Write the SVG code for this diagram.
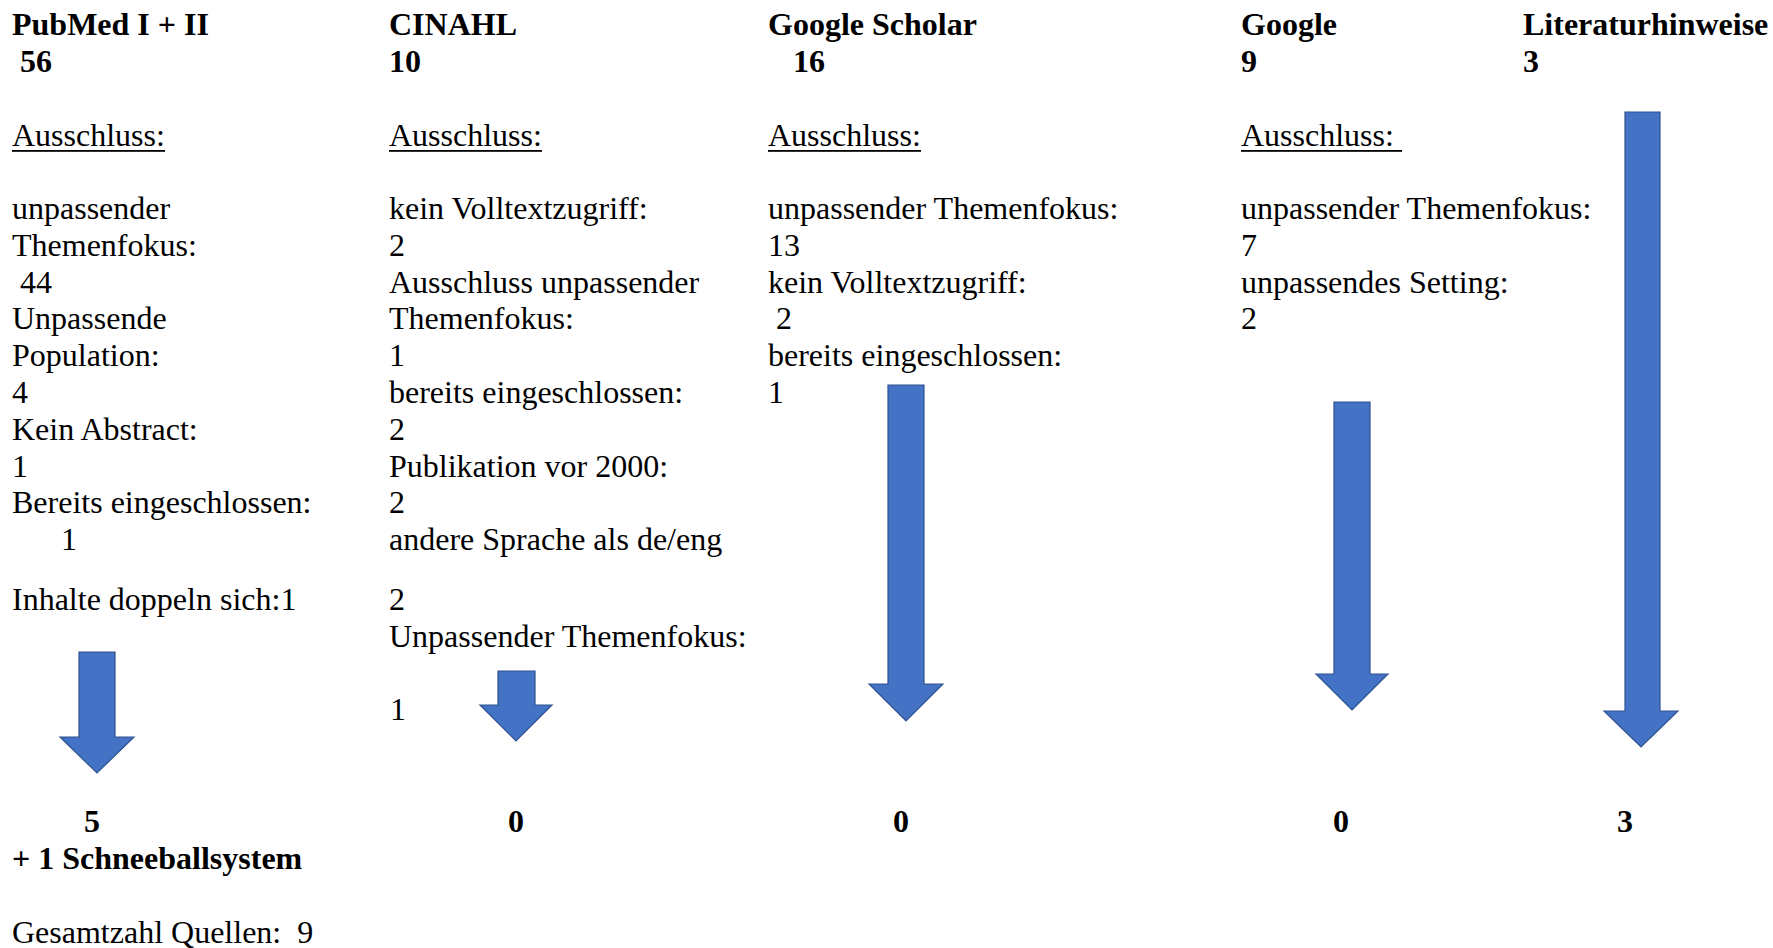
<svg xmlns="http://www.w3.org/2000/svg" width="1773" height="948" viewBox="0 0 1773 948">
<style>
text{font-family:"Liberation Serif","Times New Roman",serif;font-size:32px;fill:#000}
.b{font-weight:bold}
.ul{fill:#000}
.arrow{fill:#4472C4;stroke:#2F528F;stroke-width:1.2}
</style>
<rect width="1773" height="948" fill="#fff"/>
<g id="col-pubmed">
<text class="b" x="12" y="35">PubMed I + II</text>
<text class="b" x="20" y="72">56</text>
<text x="12" y="146">Ausschluss:</text>
<rect class="ul" x="12" y="150" width="153" height="1.8"/>
<text x="12" y="219">unpassender</text>
<text x="12" y="256">Themenfokus:</text>
<text x="20" y="293">44</text>
<text x="12" y="329">Unpassende</text>
<text x="12" y="366">Population:</text>
<text x="12" y="403">4</text>
<text x="12" y="440">Kein Abstract:</text>
<text x="12" y="477">1</text>
<text x="12" y="513">Bereits eingeschlossen:</text>
<text x="61" y="550">1</text>
<text x="12" y="610">Inhalte doppeln sich:1</text>
<text class="b" x="84" y="832">5</text>
<text class="b" x="12" y="869">+ 1 Schneeballsystem</text>
<text x="12" y="943" xml:space="preserve">Gesamtzahl Quellen:  9</text>
</g>
<g id="col-cinahl">
<text class="b" x="389" y="35">CINAHL</text>
<text class="b" x="389" y="72">10</text>
<text x="389" y="146">Ausschluss:</text>
<rect class="ul" x="389" y="150" width="153" height="1.8"/>
<text x="389" y="219">kein Volltextzugriff:</text>
<text x="389" y="256">2</text>
<text x="389" y="293">Ausschluss unpassender</text>
<text x="389" y="329">Themenfokus:</text>
<text x="389" y="366">1</text>
<text x="389" y="403">bereits eingeschlossen:</text>
<text x="389" y="440">2</text>
<text x="389" y="477">Publikation vor 2000:</text>
<text x="389" y="513">2</text>
<text x="389" y="550">andere Sprache als de/eng</text>
<text x="389" y="610">2</text>
<text x="389" y="647">Unpassender Themenfokus:</text>
<text x="390" y="720">1</text>
<text class="b" x="508" y="832">0</text>
</g>
<g id="col-scholar">
<text class="b" x="768" y="35">Google Scholar</text>
<text class="b" x="793" y="72">16</text>
<text x="768" y="146">Ausschluss:</text>
<rect class="ul" x="768" y="150" width="153" height="1.8"/>
<text x="768" y="219">unpassender Themenfokus:</text>
<text x="768" y="256">13</text>
<text x="768" y="293">kein Volltextzugriff:</text>
<text x="776" y="329">2</text>
<text x="768" y="366">bereits eingeschlossen:</text>
<text x="768" y="403">1</text>
<text class="b" x="893" y="832">0</text>
</g>
<g id="col-google">
<text class="b" x="1241" y="35">Google</text>
<text class="b" x="1241" y="72">9</text>
<text x="1241" y="146">Ausschluss:</text>
<rect class="ul" x="1241" y="150" width="161" height="1.8"/>
<text x="1241" y="219">unpassender Themenfokus:</text>
<text x="1241" y="256">7</text>
<text x="1241" y="293">unpassendes Setting:</text>
<text x="1241" y="329">2</text>
<text class="b" x="1333" y="832">0</text>
</g>
<g id="col-literatur">
<text class="b" x="1523" y="35">Literaturhinweise</text>
<text class="b" x="1523" y="72">3</text>
<text class="b" x="1617" y="832">3</text>
</g>
<g id="connectors">
<polygon class="arrow" points="79,652 115,652 115,737 134,737 97,773 60,737 79,737"/>
<polygon class="arrow" points="498,671 535,671 535,705 552,705 516,741 480,705 498,705"/>
<polygon class="arrow" points="888,385 924,385 924,684 943,684 906,721 869,684 888,684"/>
<polygon class="arrow" points="1334,402 1370,402 1370,674 1388,674 1352,710 1316,674 1334,674"/>
<polygon class="arrow" points="1625,112 1660,112 1660,711 1678,711 1641,747 1604,711 1625,711"/>
</g>
</svg>
